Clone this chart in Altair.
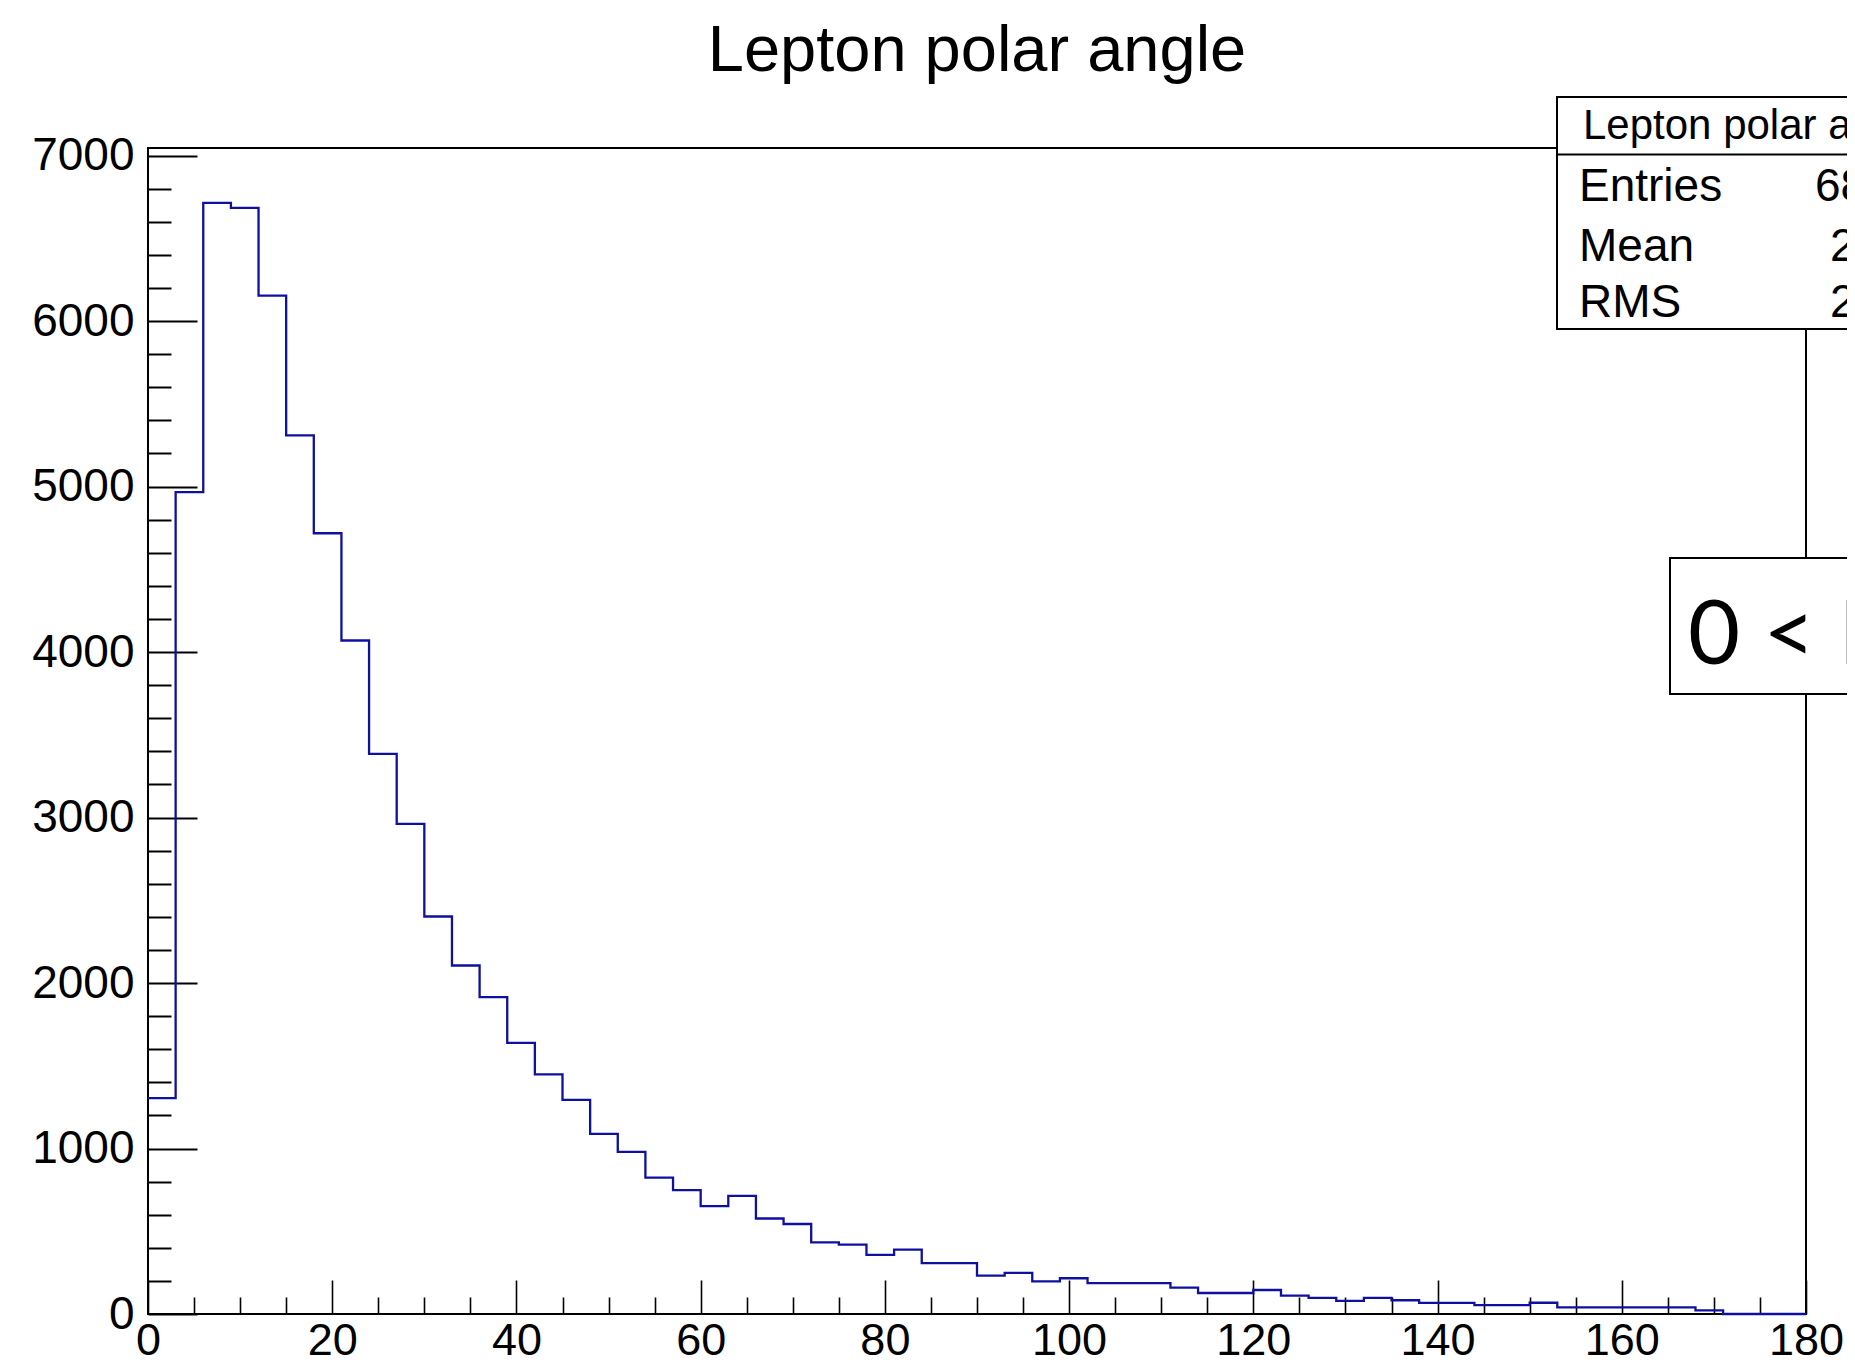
import altair as alt
import pandas as pd

# ---- data ----
bin_low = [0, 3, 6, 9, 12, 15, 18, 21, 24, 27, 30, 33, 36, 39, 42, 45, 48, 51, 54, 57,
           60, 63, 66, 69, 72, 75, 78, 81, 84, 87, 90, 93, 96, 99, 102, 105, 108, 111, 114, 117,
           120, 123, 126, 129, 132, 135, 138, 141, 144, 147, 150, 153, 156, 159, 162, 165, 168, 171, 174, 177]
counts = [1305, 4966, 6714, 6684, 6154, 5310, 4718, 4070, 3385, 2962,
          2402, 2106, 1915, 1638, 1448, 1294, 1088, 980, 824, 748,
          652, 714, 577, 544, 433, 419, 357, 389, 308, 308,
          232, 248, 197, 216, 187, 187, 187, 159, 127, 127,
          145, 111, 97, 79, 97, 83, 67, 67, 54, 54,
          68, 40, 40, 40, 40, 40, 22, 0, 0, 0]
x_end = 180
x_major = [0, 20, 40, 60, 80, 100, 120, 140, 160, 180]
x_minor = [5, 10, 15, 25, 30, 35, 45, 50, 55, 65, 70, 75, 85, 90, 95, 105, 110, 115,
           125, 130, 135, 145, 150, 155, 165, 170, 175]
y_major = [0, 1000, 2000, 3000, 4000, 5000, 6000, 7000]
y_minor = [200, 400, 600, 800, 1200, 1400, 1600, 1800, 2200, 2400, 2600, 2800,
           3200, 3400, 3600, 3800, 4200, 4400, 4600, 4800, 5200, 5400, 5600, 5800,
           6200, 6400, 6600, 6800]
y_max = 7046

title_text = "Lepton polar angle"
stats_header = "Lepton polar angle"
stats_names = ["Entries", "Mean", "RMS"]
stats_values = ["68470", "26.41", "24.87"]
cut_label = "0 < E"

FONT = "Liberation Sans"
LINE_COLOR = "#1010a0"
W, H = 1658, 1166

hist_df = pd.DataFrame({"angle": bin_low + [x_end], "count": counts + [counts[-1]]})
one = pd.DataFrame({"k": [0]})

xscale = alt.Scale(domain=[0, x_end], nice=False, zero=False)
yscale = alt.Scale(domain=[0, y_max], nice=False)

# minor ticks layer (invisible marks, own axes)
minor = alt.Chart(hist_df).mark_point(opacity=0).encode(
    x=alt.X("angle:Q", scale=xscale,
            axis=alt.Axis(orient="bottom", values=x_minor, labels=False, domain=False, grid=False,
                          tickSize=17, offset=-17, tickWidth=1.6, tickColor="black", title=None)),
    y=alt.Y("count:Q", scale=yscale,
            axis=alt.Axis(orient="left", values=y_minor, labels=False, domain=False, grid=False,
                          tickSize=23, offset=-23, tickWidth=2, tickColor="black", title=None)),
)

hist = alt.Chart(hist_df).mark_line(interpolate="step-after", color=LINE_COLOR, strokeWidth=2.3).encode(
    x=alt.X("angle:Q", scale=xscale,
            axis=alt.Axis(orient="bottom", values=x_major, domain=False, grid=False,
                          tickSize=34, offset=-34, tickWidth=1.6, tickColor="black",
                          labelFont=FONT, labelFontSize=45, labelColor="black", labelPadding=4,
                          labelFlush=False, labelOverlap=False, format="d", title=None)),
    y=alt.Y("count:Q", scale=yscale,
            axis=alt.Axis(orient="left", values=y_major, domain=False, grid=False,
                          tickSize=49, offset=-49, tickWidth=2, tickColor="black",
                          labelFont=FONT, labelFontSize=46, labelColor="black", labelPadding=14,
                          labelFlush=False, labelOverlap=False, format="d", title=None)),
)

title = alt.Chart(one).mark_text(align="center", baseline="alphabetic", font=FONT, fontSize=65,
                                 color="black").encode(
    x=alt.value(W / 2), y=alt.value(-77), text=alt.value(title_text))

# stats box
stats_box = alt.Chart(one).mark_rect(fill="white", stroke="black", strokeWidth=2).encode(
    x=alt.value(1409), x2=alt.value(1780), y=alt.value(-51), y2=alt.value(181))
stats_div = alt.Chart(one).mark_rule(color="black", strokeWidth=2).encode(
    x=alt.value(1409), x2=alt.value(1780), y=alt.value(6.5))
layers = [minor, hist, title, stats_box, stats_div]
layers.append(alt.Chart(one).mark_text(align="left", baseline="alphabetic", font=FONT, fontSize=42,
                                       color="black").encode(
    x=alt.value(1435), y=alt.value(-9), text=alt.value(stats_header)))
row_base = [52.7, 112.5, 169]
val_x = [1667, 1682, 1682]
for i, name in enumerate(stats_names):
    layers.append(alt.Chart(one).mark_text(align="left", baseline="alphabetic", font=FONT, fontSize=46,
                                           color="black").encode(
        x=alt.value(1431), y=alt.value(row_base[i]), text=alt.value(name)))
    layers.append(alt.Chart(one).mark_text(align="left", baseline="alphabetic", font=FONT, fontSize=46,
                                           color="black").encode(
        x=alt.value(val_x[i]), y=alt.value(row_base[i]), text=alt.value(stats_values[i])))

# energy label box
cut_box = alt.Chart(one).mark_rect(fill="white", stroke="black", strokeWidth=2).encode(
    x=alt.value(1522), x2=alt.value(1780), y=alt.value(410), y2=alt.value(546))
cut_text = alt.Chart(one).mark_text(align="left", baseline="alphabetic", font="Lato", fontSize=90,
                                    color="black").encode(
    x=alt.value(1540), y=alt.value(516), text=alt.value(cut_label))
layers += [cut_box, cut_text]

chart = alt.layer(*layers).resolve_axis(x="independent", y="independent").properties(
    width=W, height=H,
    padding={"left": 140, "top": 140, "right": 41, "bottom": 44},
    autosize=alt.AutoSizeParams(type="none"),
    background="white",
).configure_view(stroke="black", strokeWidth=2)

chart.save("out.html", embed_options={"renderer": "svg", "actions": False})
